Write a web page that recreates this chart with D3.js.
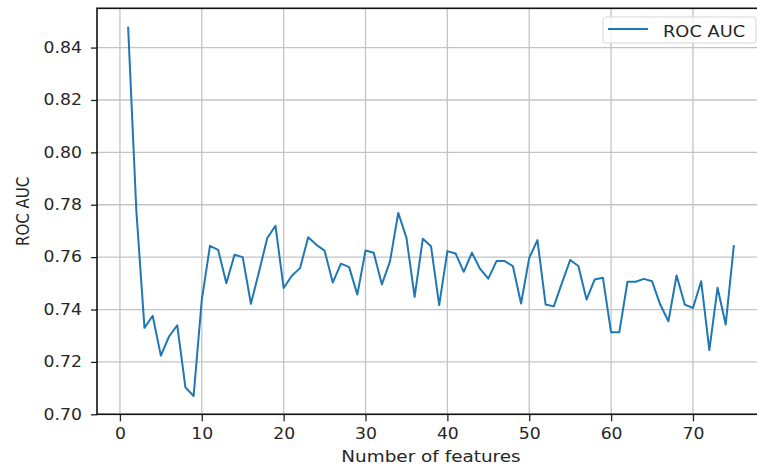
<!DOCTYPE html>
<html>
<head>
<meta charset="utf-8">
<script src="https://cdn.jsdelivr.net/npm/d3@7"></script>
<style>
  html, body { margin: 0; padding: 0; background: #fff; }
  text { font-family: "DejaVu Sans", sans-serif; fill: #262626; }
</style>
</head>
<body>
<div id="chart"></div>
<script>
// ROC AUC vs number of features
const features = d3.range(1, 76);
const rocAuc = [
  0.848, 0.778, 0.733, 0.7376, 0.7224, 0.7297, 0.734, 0.7103, 0.707, 0.7437,
  0.7643, 0.7628, 0.750, 0.7609, 0.760, 0.7422, 0.7545, 0.7673, 0.772, 0.7482,
  0.7529, 0.7558, 0.7676, 0.7647, 0.7625, 0.7503, 0.7575, 0.7562, 0.7457, 0.7625,
  0.7617, 0.7496, 0.7585, 0.7769, 0.7674, 0.7448, 0.767, 0.7642, 0.7417, 0.7623,
  0.7614, 0.7544, 0.7617, 0.7555, 0.7518, 0.7585, 0.7585, 0.7566, 0.7423, 0.7597,
  0.7665, 0.7419, 0.7412, 0.7502, 0.7589, 0.7566, 0.7438, 0.7515, 0.7521, 0.7313,
  0.7313, 0.7506, 0.7506, 0.7517, 0.7508, 0.7419, 0.7355, 0.753, 0.7419, 0.7406,
  0.7508, 0.7245, 0.7483, 0.7343, 0.7646
];
const xTicks = [0, 10, 20, 30, 40, 50, 60, 70];
const yTicks = [0.70, 0.72, 0.74, 0.76, 0.78, 0.80, 0.82, 0.84];
const seriesName = "ROC AUC";

const width = 757;
const height = 466;
const plot = {left: 97, right: 765, top: 8.3, bottom: 414.3};
const sx = 1.15; // picture is a bit stretched sideways

const svg = d3.select("#chart")
  .append("svg")
  .attr("width", width)
  .attr("height", height);

const x = d3.scaleLinear()
  .domain([-2.8, 78.8])
  .range([plot.left, plot.right]);

const y = d3.scaleLinear()
  .domain([0.70, 0.855])
  .range([plot.bottom, plot.top]);

// grid
svg.append("g")
  .selectAll("line")
  .data(xTicks)
  .join("line")
    .attr("x1", d => x(d)).attr("x2", d => x(d))
    .attr("y1", plot.top).attr("y2", plot.bottom)
    .attr("stroke", "#c4c4c4")
    .attr("stroke-width", 1.3);

svg.append("g")
  .selectAll("line")
  .data(yTicks)
  .join("line")
    .attr("x1", plot.left).attr("x2", plot.right)
    .attr("y1", d => y(d)).attr("y2", d => y(d))
    .attr("stroke", "#c4c4c4")
    .attr("stroke-width", 1.3);

// line
const line = d3.line()
  .x((d, i) => x(features[i]))
  .y(d => y(d));

svg.append("path")
  .datum(rocAuc)
  .attr("fill", "none")
  .attr("stroke", "#1f77b4")
  .attr("stroke-width", 2)
  .attr("stroke-linejoin", "round")
  .attr("d", line);

// axes
const xAxis = svg.append("g")
  .attr("transform", `translate(0,${plot.bottom})`)
  .call(d3.axisBottom(x).tickValues(xTicks).tickFormat(d3.format("d")).tickSize(7).tickSizeOuter(0));

xAxis.selectAll("text")
  .attr("y", 25)
  .attr("dy", 0)
  .attr("transform", `scale(${sx},1)`)
  .style("font-size", "15px");

const yAxis = svg.append("g")
  .attr("transform", `translate(${plot.left},0)`)
  .call(d3.axisLeft(y).tickValues(yTicks).tickFormat(d3.format(".2f")).tickSize(6).tickSizeOuter(0));

yAxis.selectAll("text")
  .attr("x", 0)
  .attr("transform", `translate(-15,0) scale(${sx},1)`)
  .style("font-size", "15px");

svg.selectAll(".domain").remove();
svg.selectAll(".tick line").attr("stroke", "#222").attr("stroke-width", 1.3);

// frame
svg.append("rect")
  .attr("x", plot.left)
  .attr("y", plot.top)
  .attr("width", plot.right - plot.left)
  .attr("height", plot.bottom - plot.top)
  .attr("fill", "none")
  .attr("stroke", "#111")
  .attr("stroke-width", 1.6);

// axis labels
svg.append("text")
  .attr("transform", `translate(${(plot.left + plot.right) / 2},461.7) scale(${sx},1)`)
  .attr("text-anchor", "middle")
  .style("font-size", "16px")
  .text("Number of features");

svg.append("text")
  .attr("transform", `translate(29,${(plot.top + plot.bottom) / 2}) scale(${sx},1) rotate(-90)`)
  .attr("text-anchor", "middle")
  .style("font-size", "15px")
  .text("ROC AUC");

// legend
const legend = svg.append("g");
legend.append("rect")
  .attr("x", 603).attr("y", 17)
  .attr("width", 153).attr("height", 26)
  .attr("rx", 3)
  .attr("fill", "#fff").attr("fill-opacity", 0.8)
  .attr("stroke", "#d6d6d6");
legend.append("line")
  .attr("x1", 608).attr("x2", 648)
  .attr("y1", 29).attr("y2", 29)
  .attr("stroke", "#1f77b4")
  .attr("stroke-width", 2);
legend.append("text")
  .attr("transform", `translate(663,36.5) scale(${sx},1)`)
  .style("font-size", "15.5px")
  .text(seriesName);
</script>
</body>
</html>
